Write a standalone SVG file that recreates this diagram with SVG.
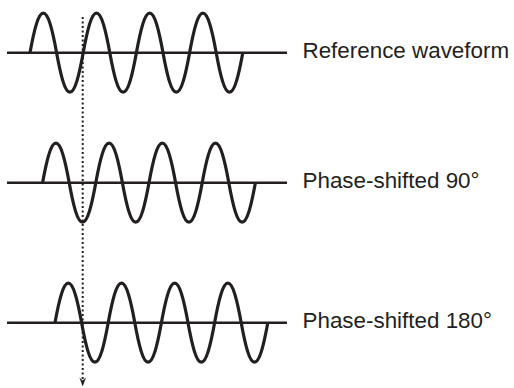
<svg xmlns="http://www.w3.org/2000/svg" width="514" height="388" viewBox="0 0 514 388">
<defs>
<style>
.axis{stroke:#231f20;stroke-width:2.4;fill:none}
.wave{stroke:#231f20;stroke-width:3.2;fill:none;stroke-linejoin:round}
.lbl{font-family:"Liberation Sans",Arial,sans-serif;font-size:22.4px;fill:#231f20}
.dots{stroke:#231f20;stroke-width:2;stroke-dasharray:2 2.5;fill:none}
</style>
</defs>
<rect width="514" height="388" fill="#ffffff"/>
<g id="reference">
<line class="axis" x1="7" y1="52.7" x2="287" y2="52.7"/>
<path class="wave" d="M 30,52.7 c 4,-22 8.2,-39.5 13.3,-39.5 c 5.1,0 9.3,17.5 13.3,39.5 c 4,22 8.2,39.5 13.3,39.5 c 5.1,0 9.3,-17.5 13.3,-39.5 c 4,-22 8.2,-39.5 13.3,-39.5 c 5.1,0 9.3,17.5 13.3,39.5 c 4,22 8.2,39.5 13.3,39.5 c 5.1,0 9.3,-17.5 13.3,-39.5 c 4,-22 8.2,-39.5 13.3,-39.5 c 5.1,0 9.3,17.5 13.3,39.5 c 4,22 8.2,39.5 13.3,39.5 c 5.1,0 9.3,-17.5 13.3,-39.5 c 4,-22 8.2,-39.5 13.3,-39.5 c 5.1,0 9.3,17.5 13.3,39.5 c 4,22 8.2,39.5 13.3,39.5 c 5.1,0 9.3,-17.5 13.3,-39.5"/>
<text class="lbl" x="302.5" y="57.7">Reference waveform</text>
</g>
<g id="shift90">
<line class="axis" x1="7" y1="182.7" x2="287" y2="182.7"/>
<path class="wave" d="M 42.6,182.7 c 4,-22 8.2,-39.5 13.3,-39.5 c 5.1,0 9.3,17.5 13.3,39.5 c 4,22 8.2,39.5 13.3,39.5 c 5.1,0 9.3,-17.5 13.3,-39.5 c 4,-22 8.2,-39.5 13.3,-39.5 c 5.1,0 9.3,17.5 13.3,39.5 c 4,22 8.2,39.5 13.3,39.5 c 5.1,0 9.3,-17.5 13.3,-39.5 c 4,-22 8.2,-39.5 13.3,-39.5 c 5.1,0 9.3,17.5 13.3,39.5 c 4,22 8.2,39.5 13.3,39.5 c 5.1,0 9.3,-17.5 13.3,-39.5 c 4,-22 8.2,-39.5 13.3,-39.5 c 5.1,0 9.3,17.5 13.3,39.5 c 4,22 8.2,39.5 13.3,39.5 c 5.1,0 9.3,-17.5 13.3,-39.5"/>
<text class="lbl" x="302.5" y="187.7">Phase-shifted 90°</text>
</g>
<g id="shift180">
<line class="axis" x1="7" y1="322.7" x2="287" y2="322.7"/>
<path class="wave" d="M 55,322.7 c 4,-22 8.2,-39.5 13.3,-39.5 c 5.1,0 9.3,17.5 13.3,39.5 c 4,22 8.2,39.5 13.3,39.5 c 5.1,0 9.3,-17.5 13.3,-39.5 c 4,-22 8.2,-39.5 13.3,-39.5 c 5.1,0 9.3,17.5 13.3,39.5 c 4,22 8.2,39.5 13.3,39.5 c 5.1,0 9.3,-17.5 13.3,-39.5 c 4,-22 8.2,-39.5 13.3,-39.5 c 5.1,0 9.3,17.5 13.3,39.5 c 4,22 8.2,39.5 13.3,39.5 c 5.1,0 9.3,-17.5 13.3,-39.5 c 4,-22 8.2,-39.5 13.3,-39.5 c 5.1,0 9.3,17.5 13.3,39.5 c 4,22 8.2,39.5 13.3,39.5 c 5.1,0 9.3,-17.5 13.3,-39.5"/>
<text class="lbl" x="302.5" y="327.7">Phase-shifted 180°</text>
</g>
<g id="connectors">
<line class="dots" x1="82.7" y1="17" x2="82.7" y2="379"/>
<path d="M 79.4,377.5 L 82.7,386.5 L 86,377.5 L 82.7,380.5 Z" fill="#231f20"/>
</g>
</svg>
